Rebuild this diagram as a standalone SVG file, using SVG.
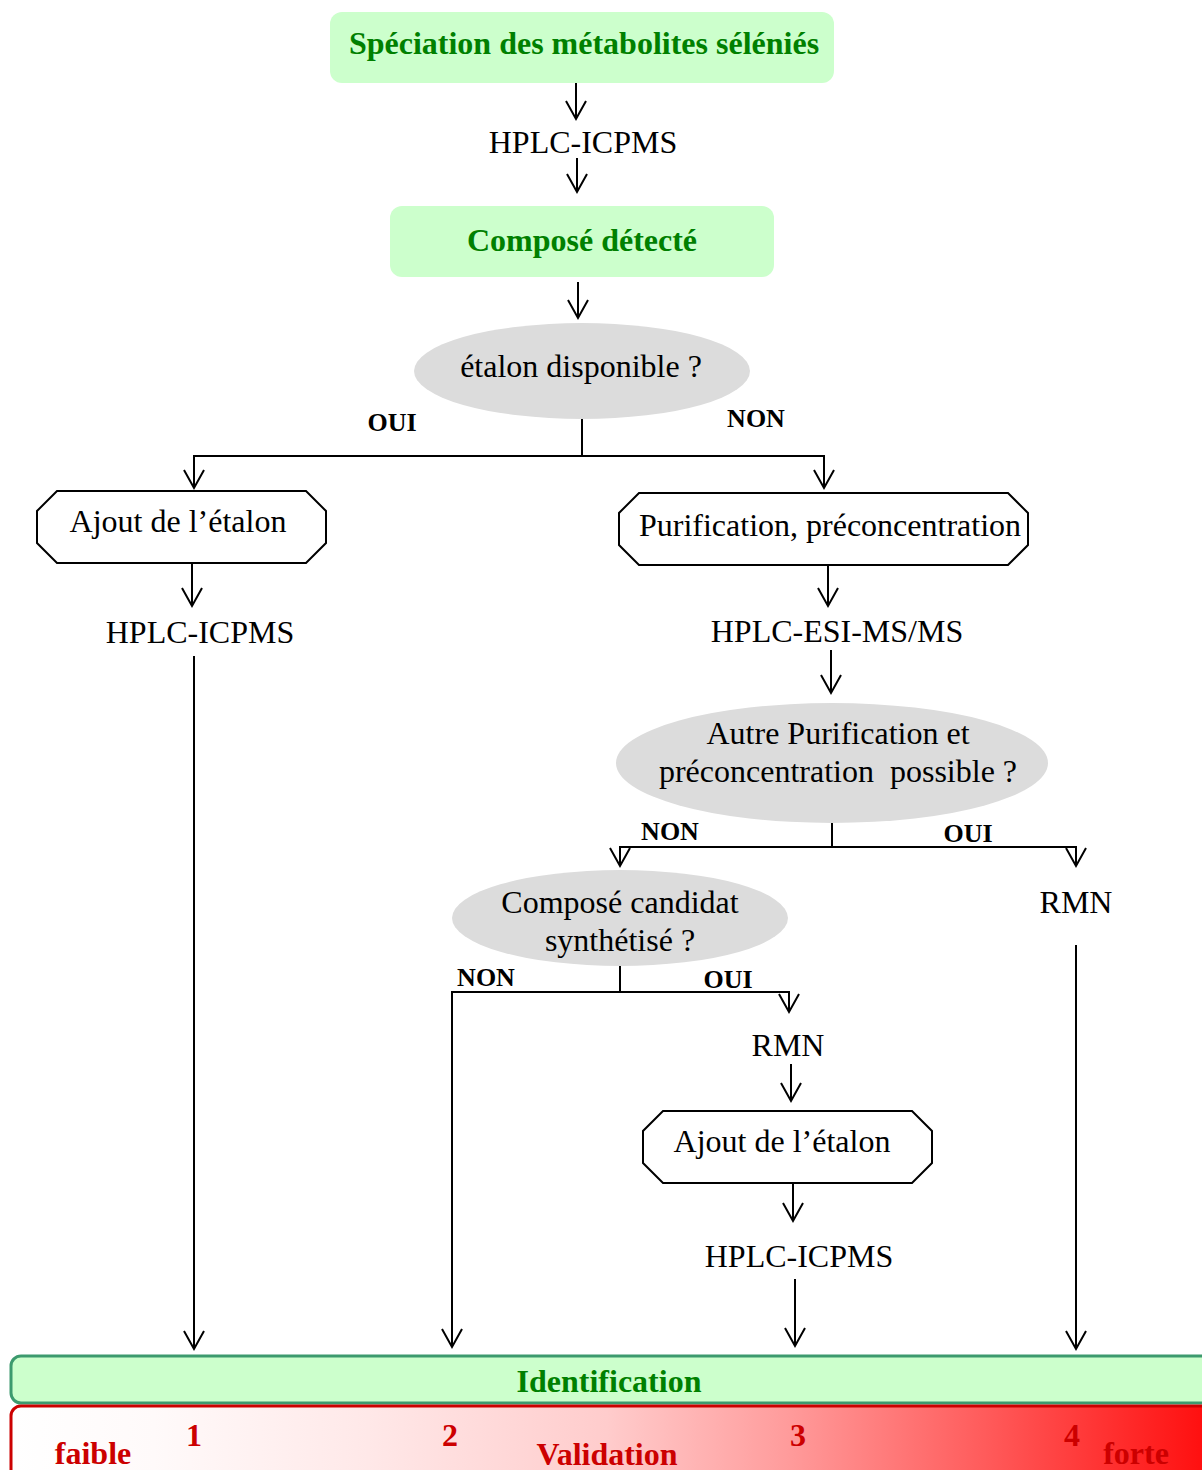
<svg xmlns="http://www.w3.org/2000/svg" width="1202" height="1470" viewBox="0 0 1202 1470">
<style>
text{font-family:"Liberation Serif","Times New Roman",serif;text-anchor:middle}
.t{font-size:32px;fill:#000}
.h{font-size:32px;font-weight:bold;fill:#008000}
.lb{font-size:26px;font-weight:bold;fill:#000}
.v{font-size:32px;font-weight:bold;fill:#cc0000}
.box{fill:#ccffcc;stroke:none}
.oct{fill:#fff;stroke:#000;stroke-width:2}
.ell{fill:#dcdcdc;stroke:none}
.c{fill:none;stroke:#000;stroke-width:2}
.a{marker-end:url(#arr)}
</style>
<defs>
<marker id="arr" markerUnits="userSpaceOnUse" markerWidth="26" markerHeight="26" viewBox="-22 -13 26 26" refX="0" refY="0" orient="auto">
<path d="M-18,-10 L0,0 L-18,10" fill="none" stroke="#000" stroke-width="2"/>
</marker>
<linearGradient id="grad" x1="11" y1="0" x2="1202" y2="0" gradientUnits="userSpaceOnUse">
<stop offset="0" stop-color="#ffffff"/>
<stop offset="0.12" stop-color="#fffafa"/>
<stop offset="0.3" stop-color="#ffe8e8"/>
<stop offset="0.5" stop-color="#ffcccc"/>
<stop offset="0.65" stop-color="#ff9c9c"/>
<stop offset="0.82" stop-color="#ff5a5a"/>
<stop offset="1" stop-color="#ff1010"/>
</linearGradient>
</defs>

<g id="connectors">
<line class="c a" x1="576" y1="82" x2="576" y2="119"/>
<line class="c a" x1="577" y1="158" x2="577" y2="192"/>
<line class="c a" x1="578" y1="282" x2="578" y2="318"/>
<polyline class="c" points="582,419 582,456"/>
<polyline class="c a" points="582,456 194,456 194,488"/>
<polyline class="c a" points="582,456 824,456 824,488"/>
<line class="c a" x1="192" y1="563" x2="192" y2="606"/>
<line class="c a" x1="194" y1="656" x2="194" y2="1349"/>
<line class="c a" x1="828" y1="565" x2="828" y2="606"/>
<line class="c a" x1="831" y1="650" x2="831" y2="693"/>
<polyline class="c" points="832,822 832,847"/>
<polyline class="c a" points="832,847 620,847 620,866"/>
<polyline class="c a" points="832,847 1076,847 1076,866"/>
<line class="c a" x1="1076" y1="945" x2="1076" y2="1349"/>
<polyline class="c" points="620,966 620,992"/>
<polyline class="c a" points="620,992 452,992 452,1347"/>
<polyline class="c a" points="620,992 789,992 789,1012"/>
<line class="c a" x1="791" y1="1064" x2="791" y2="1101"/>
<line class="c a" x1="793" y1="1184" x2="793" y2="1221"/>
<line class="c a" x1="795" y1="1279" x2="795" y2="1346"/>
</g>

<g id="speciation">
<rect class="box" x="330" y="12" width="504" height="71" rx="12"/>
<text class="h" x="584" y="54">Spéciation des métabolites séléniés</text>
</g>
<g id="hplc1"><text class="t" x="583" y="153">HPLC-ICPMS</text></g>
<g id="compose">
<rect class="box" x="390" y="206" width="384" height="71" rx="12"/>
<text class="h" x="582" y="251">Composé détecté</text>
</g>
<g id="etalon">
<ellipse class="ell" cx="582" cy="371" rx="168" ry="48"/>
<text class="t" x="581" y="377">étalon disponible ?</text>
</g>
<g id="lbl-oui1"><text class="lb" x="392" y="431">OUI</text></g>
<g id="lbl-non1"><text class="lb" x="756" y="427">NON</text></g>
<g id="ajout1">
<polygon class="oct" points="57,491 306,491 326,511 326,543 306,563 57,563 37,543 37,511"/>
<text class="t" x="178" y="532">Ajout de l’étalon</text>
</g>
<g id="hplc2"><text class="t" x="200" y="643">HPLC-ICPMS</text></g>
<g id="purif">
<polygon class="oct" points="639,493 1008,493 1028,513 1028,545 1008,565 639,565 619,545 619,513"/>
<text class="t" x="830" y="536">Purification, préconcentration</text>
</g>
<g id="esi"><text class="t" x="837" y="642">HPLC-ESI-MS/MS</text></g>
<g id="autre">
<ellipse class="ell" cx="832" cy="763" rx="216" ry="60"/>
<text class="t" x="838" y="744">Autre Purification et</text>
<text class="t" x="838" y="782" xml:space="preserve">préconcentration  possible ?</text>
</g>
<g id="lbl-non2"><text class="lb" x="670" y="840">NON</text></g>
<g id="lbl-oui2"><text class="lb" x="968" y="842">OUI</text></g>
<g id="candidat">
<ellipse class="ell" cx="620" cy="918" rx="168" ry="48"/>
<text class="t" x="620" y="913">Composé candidat</text>
<text class="t" x="620" y="951">synthétisé ?</text>
</g>
<g id="rmn1"><text class="t" x="1076" y="913">RMN</text></g>
<g id="lbl-non3"><text class="lb" x="486" y="986">NON</text></g>
<g id="lbl-oui3"><text class="lb" x="728" y="988">OUI</text></g>
<g id="rmn2"><text class="t" x="788" y="1056">RMN</text></g>
<g id="ajout2">
<polygon class="oct" points="663,1111 912,1111 932,1131 932,1163 912,1183 663,1183 643,1163 643,1131"/>
<text class="t" x="782" y="1152">Ajout de l’étalon</text>
</g>
<g id="hplc3"><text class="t" x="799" y="1267">HPLC-ICPMS</text></g>

<g id="identification">
<rect x="11" y="1356" width="1210" height="47" rx="10" fill="#ccffcc" stroke="#3c9a6e" stroke-width="3"/>
<text class="h" x="609" y="1392">Identification</text>
</g>
<g id="validation">
<rect x="11" y="1406" width="1210" height="90" rx="10" fill="url(#grad)" stroke="#cc0000" stroke-width="3"/>
<text class="v" x="93" y="1464">faible</text>
<text class="v" x="194" y="1446">1</text>
<text class="v" x="450" y="1446">2</text>
<text class="v" x="607" y="1465">Validation</text>
<text class="v" x="798" y="1446">3</text>
<text class="v" x="1072" y="1446">4</text>
<text class="v" x="1136" y="1464">forte</text>
</g>
</svg>
